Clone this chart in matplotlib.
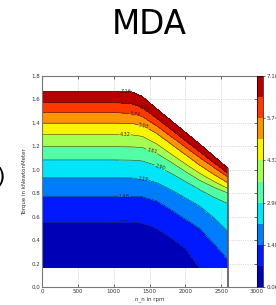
import numpy as np
import matplotlib
matplotlib.use('Agg')
import matplotlib.pyplot as plt
import matplotlib.ticker as ticker
from matplotlib.patches import Rectangle

# speed columns of the map (rpm)
speed_rpm = [0, 1000, 1250, 1400, 1600, 1800, 2000, 2200, 2400, 2600]
levels = [0.06, 0.77, 1.48, 2.19, 2.90, 3.61, 4.32, 5.03, 5.74, 6.45, 7.16]
cbar_ticks = [0.06, 1.48, 2.90, 4.32, 5.74, 7.16]

# torque (kNm) at which the map reaches each level, per speed column
iso_006 = [0.16, 0.16, 0.16, 0.16, 0.12, 0.05, -0.05, -0.20, -0.35, -0.50]
iso_077 = [0.550, 0.550, 0.550, 0.545, 0.50, 0.42, 0.33, 0.16, 0.00, -0.15]
iso_148 = [0.775, 0.775, 0.775, 0.770, 0.735, 0.66, 0.58, 0.50, 0.37, 0.23]
iso_219 = [0.931, 0.931, 0.930, 0.925, 0.89, 0.83, 0.76, 0.69, 0.59, 0.47]
iso_290 = [1.084, 1.084, 1.082, 1.075, 1.035, 0.97, 0.90, 0.83, 0.765, 0.71]
iso_361 = [1.197, 1.197, 1.195, 1.190, 1.14, 1.065, 0.985, 0.91, 0.85, 0.80]
iso_432 = [1.300, 1.300, 1.298, 1.285, 1.22, 1.135, 1.05, 0.97, 0.90, 0.838]
iso_503 = [1.398, 1.398, 1.395, 1.380, 1.31, 1.22, 1.13, 1.04, 0.96, 0.886]
iso_574 = [1.488, 1.488, 1.480, 1.455, 1.375, 1.285, 1.195, 1.105, 1.02, 0.936]
iso_645 = [1.573, 1.573, 1.565, 1.530, 1.44, 1.345, 1.25, 1.155, 1.06, 0.967]
iso_716 = [1.667, 1.667, 1.665, 1.625, 1.52, 1.42, 1.32, 1.22, 1.115, 1.01]  # max torque curve

torque_min = 0.16
over_value = 7.6   # value just outside the operating area

rows = [iso_006, iso_077, iso_148, iso_219, iso_290, iso_361,
        iso_432, iso_503, iso_574, iso_645, iso_716]
Y = np.array(rows + [list(np.array(iso_716) + 0.3)])
Z = np.tile(np.array(levels + [over_value])[:, None], (1, len(speed_rpm)))
X = np.tile(np.array(speed_rpm, dtype=float), (Y.shape[0], 1))

fig = plt.figure(figsize=(2.76, 3.05), dpi=100)
ax = fig.add_axes([42/276, 18/305, 215/276, 211/305])
cax = fig.add_axes([257/276, 18/305, 6/276, 211/305])

cf = ax.contourf(X, Y, Z, levels=levels, cmap='jet')
cl = ax.contour(X, Y, Z, levels=levels[1:], colors='#222222', linewidths=0.35)
clip = Rectangle((0, torque_min), speed_rpm[-1], 2.0, transform=ax.transData)
cf.set_clip_path(clip)
cl.set_clip_path(clip)

# label spots, roughly where the original put them
label_pos = [(1150, 0.55), (1150, 0.78), (1410, 0.93), (1640, 1.0), (1530, 1.15),
             (1160, 1.30), (1420, 1.38), (1300, 1.48), (1420, 1.50), (1180, 1.66)]
ax.clabel(cl, fmt='%.2f', fontsize=3.5, inline=True, inline_spacing=1,
          manual=label_pos)

ax.plot([speed_rpm[-1], speed_rpm[-1]], [0, iso_716[-1]], color='#555555', lw=1.2)

ax.set_xlim(0, 3000)
ax.set_ylim(0, 1.8)
ax.xaxis.set_major_locator(ticker.MultipleLocator(500))
ax.yaxis.set_major_locator(ticker.MultipleLocator(0.2))
ax.yaxis.set_major_formatter(ticker.FormatStrFormatter('%.1f'))
ax.tick_params(labelsize=4, length=2, width=0.4, direction='in',
               top=True, right=True, pad=1.5, labelcolor='#333333')
ax.grid(True, color='#bbbbbb', linestyle=':', linewidth=0.5)
ax.set_axisbelow(True)
for s in ax.spines.values():
    s.set_color('#777777')
    s.set_linewidth(0.8)
ax.set_xlabel('n_n in rpm', fontsize=4, labelpad=1.5, color='#333333')
ax.set_ylabel('Torque in kNewtonMeter', fontsize=4, labelpad=3, color='#333333')

cb = fig.colorbar(cf, cax=cax, ticks=cbar_ticks)
cb.ax.yaxis.set_major_formatter(ticker.FormatStrFormatter('%.2f'))
cb.ax.tick_params(labelsize=4, length=1.5, width=0.4, pad=1, labelcolor='#333333')
cb.outline.set_linewidth(0.5)

fig.text(0.54, 1 - 25/305, 'MDA', fontsize=23.5, ha='center', va='center')
fig.text(5/276, 1 - 177/305, ')', fontsize=16, ha='right', va='center')

fig.savefig('out.png', dpi=100)
